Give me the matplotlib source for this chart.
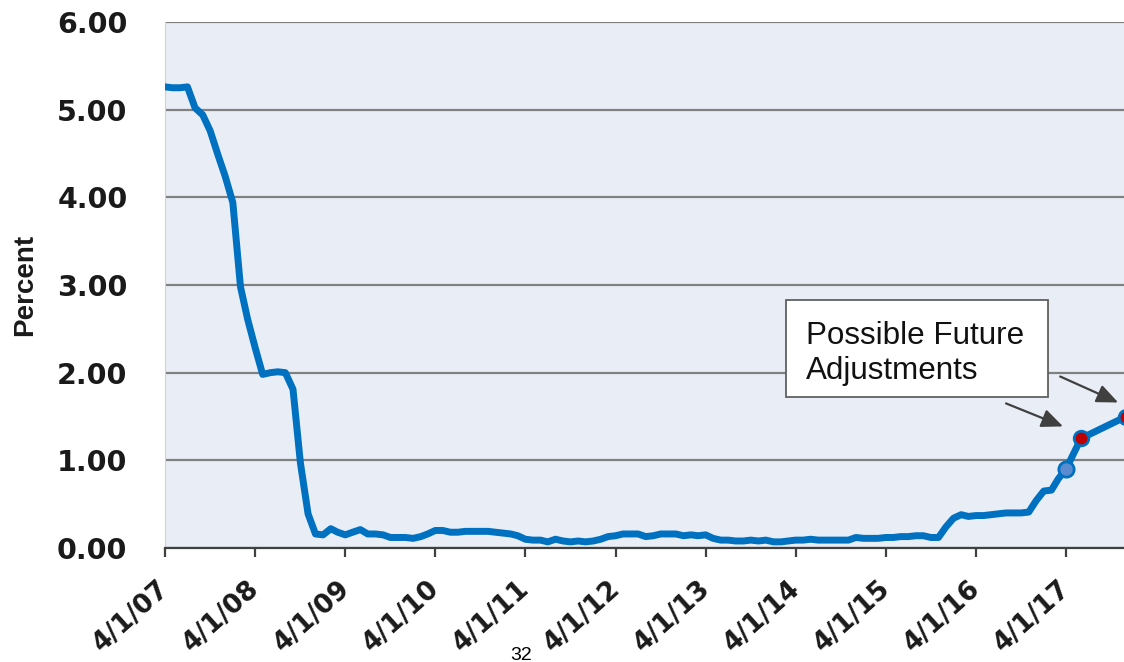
import matplotlib
matplotlib.use("Agg")
import matplotlib.pyplot as plt
import matplotlib.dates as mdates
import matplotlib.transforms as mtransforms
from matplotlib.patches import Rectangle
import pandas as pd

# Effective federal funds rate, monthly, April 2007 - April 2017 (percent)
rate_values = [
    5.26, 5.25, 5.25, 5.26, 5.02, 4.94, 4.76, 4.49, 4.24,
    3.94, 2.98, 2.61, 2.28, 1.98, 2.00, 2.01, 2.00, 1.81, 0.97, 0.39, 0.16,
    0.15, 0.22, 0.18, 0.15, 0.18, 0.21, 0.16, 0.16, 0.15, 0.12, 0.12, 0.12,
    0.11, 0.13, 0.16, 0.20, 0.20, 0.18, 0.18, 0.19, 0.19, 0.19, 0.19, 0.18,
    0.17, 0.16, 0.14, 0.10, 0.09, 0.09, 0.07, 0.10, 0.08, 0.07, 0.08, 0.07,
    0.08, 0.10, 0.13, 0.14, 0.16, 0.16, 0.16, 0.13, 0.14, 0.16, 0.16, 0.16,
    0.14, 0.15, 0.14, 0.15, 0.11, 0.09, 0.09, 0.08, 0.08, 0.09, 0.08, 0.09,
    0.07, 0.07, 0.08, 0.09, 0.09, 0.10, 0.09, 0.09, 0.09, 0.09, 0.09, 0.12,
    0.11, 0.11, 0.11, 0.12, 0.12, 0.13, 0.13, 0.14, 0.14, 0.12, 0.12, 0.24,
    0.34, 0.38, 0.36, 0.37, 0.37, 0.38, 0.39, 0.40, 0.40, 0.40, 0.41, 0.54,
    0.65, 0.66, 0.79, 0.90,
]
rate_dates = pd.date_range("2007-04-01", periods=len(rate_values), freq="MS")

# Possible future adjustments
future_dates = pd.to_datetime(["2017-06-01", "2017-12-01"])
future_values = [1.25, 1.50]

tick_dates = pd.to_datetime([f"{y}-04-01" for y in range(2007, 2018)])
tick_labels = ["4/1/07", "4/1/08", "4/1/09", "4/1/10", "4/1/11", "4/1/12",
               "4/1/13", "4/1/14", "4/1/15", "4/1/16", "4/1/17"]
y_ticks = [0, 1, 2, 3, 4, 5, 6]
y_tick_labels = ["0.00", "1.00", "2.00", "3.00", "4.00", "5.00", "6.00"]

W, H, DPI = 1124, 662, 100
BLUE = "#0070C0"

fig = plt.figure(figsize=(W / DPI, H / DPI), dpi=DPI)
fig.patch.set_facecolor("white")

ax_left, ax_right, ax_top, ax_bottom = 165, 1140, 22, 548
ax = fig.add_axes([ax_left / W, (H - ax_bottom) / H,
                   (ax_right - ax_left) / W, (ax_bottom - ax_top) / H])
ax.set_facecolor("#E9EEF6")

all_dates = list(rate_dates) + list(future_dates)
all_values = rate_values + future_values
ax.plot(all_dates, all_values, color=BLUE, lw=5.0, solid_joinstyle="round",
        solid_capstyle="round", zorder=3)
ax.plot(rate_dates[-1:], rate_values[-1:], "o", ms=11, mfc="#5B8BD0",
        mec=BLUE, mew=2, zorder=4)
ax.plot(future_dates, future_values, "o", ms=10.5, mfc="#C00000",
        mec=BLUE, mew=2, zorder=4)

# x scale: one tick per year starting at 4/1/07
d0 = mdates.date2num(tick_dates[0])
d1 = mdates.date2num(tick_dates[-1])
px_per_day = (1066 - 165) / (d1 - d0)
ax.set_xlim(d0, d0 + (ax_right - ax_left) / px_per_day)
ax.set_ylim(0, 6)

ax.set_yticks(y_ticks)
ax.set_yticklabels(y_tick_labels, fontsize=20.5, fontweight="bold",
                   family="DejaVu Sans", color="#1a1a1a")
ax.tick_params(axis="y", length=0, pad=27)

ax.set_xticks(mdates.date2num(tick_dates))
ax.set_xticklabels(tick_labels, fontsize=19, fontweight="bold",
                   family="DejaVu Sans", color="#1a1a1a",
                   rotation=42, ha="right", va="center", rotation_mode="anchor")
ax.tick_params(axis="x", direction="out", length=6.5, width=1.6,
               color="#404040", pad=20)
shift = mtransforms.ScaledTranslation(1 / DPI, 0, fig.dpi_scale_trans)
for lab in ax.get_xticklabels():
    lab.set_transform(lab.get_transform() + shift)

ax.grid(axis="y", color="#808080", lw=1.6, zorder=1)
ax.grid(axis="x", visible=False)
ax.set_axisbelow(True)
for side in ("top", "right"):
    ax.spines[side].set_visible(False)
ax.spines["left"].set_color("#D0D0D0")
ax.spines["left"].set_linewidth(0.8)
ax.spines["bottom"].set_color("#404040")
ax.spines["bottom"].set_linewidth(1.6)
ax.spines["bottom"].set_zorder(5)

fig.text(25 / W, 1 - 285 / H, "Percent", rotation=90, ha="center", va="center",
         fontsize=20, fontweight="bold", family="Liberation Sans", color="#1a1a1a")

# Callout box
bx0, by0, bx1, by1 = 786, 300, 1048, 397
fig.patches.append(Rectangle((bx0 / W, 1 - by1 / H), (bx1 - bx0) / W, (by1 - by0) / H,
                             transform=fig.transFigure, facecolor="white",
                             edgecolor="#606060", lw=1.3, zorder=6))
fig.text(806 / W, 1 - 379 / H, "Possible Future\nAdjustments", ha="left",
         va="baseline", fontsize=22.6, family="Liberation Sans", color="#111111",
         linespacing=1.2, zorder=7)

# Arrows pointing at the projected points
arrow_kw = dict(arrowstyle="-|>,head_length=0.65,head_width=0.28", color="#404040",
                lw=1.6, mutation_scale=20, shrinkA=0, shrinkB=0)
for date, val, tip_off, tail_off in [
    (future_dates[0], future_values[0], (-18, 12), (-57, 23)),
    (future_dates[1], future_values[1], (-8, 14), (-58, 26)),
]:
    tr = mtransforms.offset_copy(ax.transData, fig=fig, x=tip_off[0], y=tip_off[1],
                                 units="dots")
    ax.annotate("", xy=(mdates.date2num(date), val), xycoords=tr,
                xytext=tail_off, textcoords="offset pixels",
                arrowprops=arrow_kw, annotation_clip=False, zorder=7)

fig.text(521 / W, 2 / H, "32", ha="center", va="baseline", fontsize=14,
         family="Liberation Sans", color="black")

fig.savefig("out.png", dpi=DPI)
